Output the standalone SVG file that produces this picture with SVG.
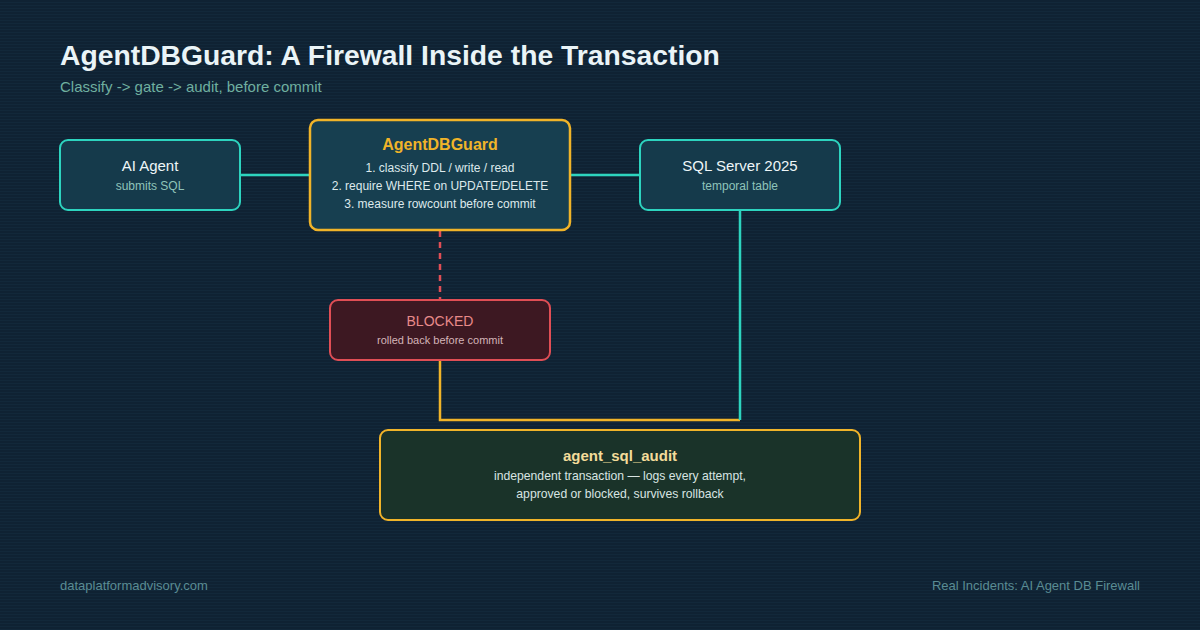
<svg xmlns="http://www.w3.org/2000/svg" width="1200" height="630" viewBox="0 0 1200 630">
<defs>
<pattern id="stripes" width="4" height="3" patternUnits="userSpaceOnUse">
<rect width="4" height="3" fill="#0f2233"/>
<rect y="2" width="4" height="1" fill="#12283a"/>
</pattern>
<style>
text{font-family:"Liberation Sans",Arial,sans-serif;text-anchor:middle}
.teal{fill:#153a4b;stroke:#2dd4bf;stroke-width:2}
.guard{fill:#173f50;stroke:#f0b429;stroke-width:2.5}
.blocked{fill:#3d1822;stroke:#e04e55;stroke-width:2}
.audit{fill:#1a3329;stroke:#f0b429;stroke-width:2}
.t1{font-size:15px;fill:#eef6f8}
.t2{font-size:12px;fill:#8fc4ba}
.g1{font-size:16px;font-weight:bold;fill:#f0b429}
.g2{font-size:12px;fill:#dde9ec}
.conn{fill:none;stroke-width:2.5}
</style>
</defs>
<rect width="1200" height="630" fill="url(#stripes)"/>
<text x="60" y="65" style="text-anchor:start;font-size:28.3px;font-weight:bold;fill:#eaf4f7">AgentDBGuard: A Firewall Inside the Transaction</text>
<text x="60" y="92" style="text-anchor:start;font-size:15px;fill:#6fb0a0">Classify -&gt; gate -&gt; audit, before commit</text>
<g id="connectors">
<line class="conn" x1="240" y1="175" x2="310" y2="175" stroke="#2dd4bf"/>
<line class="conn" x1="570" y1="175" x2="640" y2="175" stroke="#2dd4bf"/>
<line class="conn" x1="440" y1="231" x2="440" y2="300" stroke="#e04e55" stroke-dasharray="6 5"/>
<polyline class="conn" points="440,360 440,420 740,420" stroke="#f0b429"/>
<line class="conn" x1="740" y1="210" x2="740" y2="420" stroke="#2dd4bf"/>
</g>
<g id="ai-agent">
<rect class="teal" x="60" y="140" width="180" height="70" rx="8"/>
<text class="t1" x="150" y="171">AI Agent</text>
<text class="t2" x="150" y="190">submits SQL</text>
</g>
<g id="agentdbguard">
<rect class="guard" x="310" y="120" width="260" height="110" rx="8"/>
<text class="g1" x="440" y="150">AgentDBGuard</text>
<text class="g2" x="440" y="172">1. classify DDL / write / read</text>
<text class="g2" x="440" y="190">2. require WHERE on UPDATE/DELETE</text>
<text class="g2" x="440" y="208">3. measure rowcount before commit</text>
</g>
<g id="sql-server">
<rect class="teal" x="640" y="140" width="200" height="70" rx="8"/>
<text class="t1" x="740" y="171">SQL Server 2025</text>
<text class="t2" x="740" y="190">temporal table</text>
</g>
<g id="blocked">
<rect class="blocked" x="330" y="300" width="220" height="60" rx="8"/>
<text x="440" y="326" style="font-size:14px;fill:#e88a8a">BLOCKED</text>
<text x="440" y="344" style="font-size:11px;fill:#d4b4b8">rolled back before commit</text>
</g>
<g id="agent-sql-audit">
<rect class="audit" x="380" y="430" width="480" height="90" rx="8"/>
<text x="620" y="461" style="font-size:15px;font-weight:bold;fill:#f3dc9a">agent_sql_audit</text>
<text x="620" y="480" style="font-size:12.2px;fill:#d8e4e2">independent transaction — logs every attempt,</text>
<text x="620" y="498" style="font-size:12.2px;fill:#d8e4e2">approved or blocked, survives rollback</text>
</g>
<text x="60" y="590" style="text-anchor:start;font-size:13px;fill:#5a8c93">dataplatformadvisory.com</text>
<text x="1140" y="590" style="text-anchor:end;font-size:13px;fill:#5a8c93">Real Incidents: AI Agent DB Firewall</text>
</svg>
